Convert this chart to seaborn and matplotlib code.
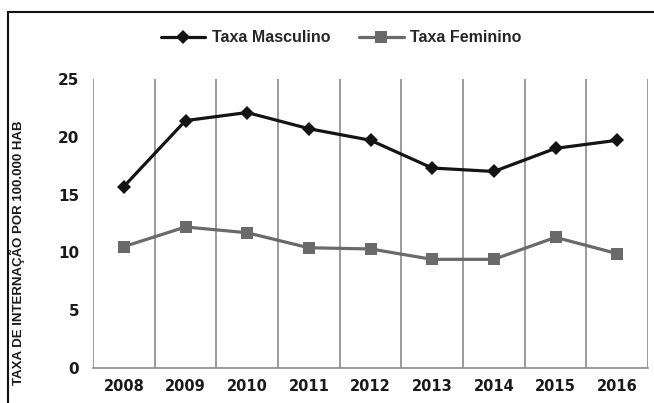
import pandas as pd
import seaborn as sns
import matplotlib.pyplot as plt
from matplotlib.patches import Rectangle

anos = ["2008", "2009", "2010", "2011", "2012", "2013", "2014", "2015", "2016"]
taxa_masculino = [15.7, 21.4, 22.1, 20.7, 19.7, 17.3, 17.0, 19.0, 19.7]
taxa_feminino = [10.5, 12.2, 11.7, 10.4, 10.3, 9.4, 9.4, 11.3, 9.9]

df = pd.DataFrame({
    "pos": list(range(len(anos))) * 2,
    "taxa": taxa_masculino + taxa_feminino,
    "serie": ["Taxa Masculino"] * len(anos) + ["Taxa Feminino"] * len(anos),
})

sns.set_style("white")
plt.rcParams["font.family"] = ["DejaVu Sans"]

fig = plt.figure(figsize=(6.54, 4.03), dpi=100)
ax = fig.add_axes([93 / 654, 35 / 403, 555 / 654, 289 / 403])

sns.lineplot(data=df, x="pos", y="taxa", hue="serie", style="serie",
             palette={"Taxa Masculino": "#141414", "Taxa Feminino": "#6a6a6a"},
             markers={"Taxa Masculino": "D", "Taxa Feminino": "s"},
             dashes=False, linewidth=2.3, markersize=8, markeredgewidth=0,
             ax=ax, legend=True)
# diamond smaller than square
for line in ax.lines:
    if line.get_marker() == "D":
        line.set_markersize(7)
    else:
        line.set_markersize(9)

ax.set_xlim(-0.5, len(anos) - 0.5)
ax.set_ylim(0, 25)
ax.set_xticks(range(len(anos)))
ax.set_xticklabels(anos, fontweight="bold", fontsize=10.5, color="#1a1a1a")
ax.set_yticks([0, 5, 10, 15, 20, 25])
ax.set_yticklabels(["0", "5", "10", "15", "20", "25"], fontweight="bold",
                   fontsize=11, color="#1a1a1a")
ax.tick_params(axis="both", length=0)
ax.tick_params(axis="y", pad=10)
ax.tick_params(axis="x", pad=8)
ax.set_xlabel("")
ax.set_ylabel("")

# vertical gridlines at category borders
for b in [i + 0.5 for i in range(-1, len(anos))]:
    ax.axvline(b, color="#8a8a8a", linewidth=1.2, zorder=0)

for s in ["top", "right"]:
    ax.spines[s].set_visible(False)
ax.spines["left"].set_visible(False)
ax.spines["bottom"].set_color("#8a8a8a")
ax.spines["bottom"].set_linewidth(1.2)

handles, labels = ax.get_legend_handles_labels()
ax.get_legend().remove()
fig.legend(handles, labels, loc="center", bbox_to_anchor=(341 / 654, 1 - 38 / 403),
           ncol=2, frameon=False, handlelength=2.8, handletextpad=0.4,
           columnspacing=1.8,
           prop={"weight": "bold", "size": 11.5, "family": ["Liberation Sans", "DejaVu Sans"]})

fig.text(17 / 654, 1 - 253 / 403, "TAXA DE INTERNAÇÃO POR 100.000 HAB",
         rotation=90, ha="center", va="center", fontsize=9.5,
         family=["Liberation Sans", "DejaVu Sans"], fontweight="bold",
         color="#1a1a1a")

fig.patches.append(Rectangle((8 / 654, -0.1), 1.2, 1 - 12 / 403 + 0.1,
                             transform=fig.transFigure, fill=False,
                             edgecolor="#111111", linewidth=1.5))

plt.savefig("out.png", dpi=100)
